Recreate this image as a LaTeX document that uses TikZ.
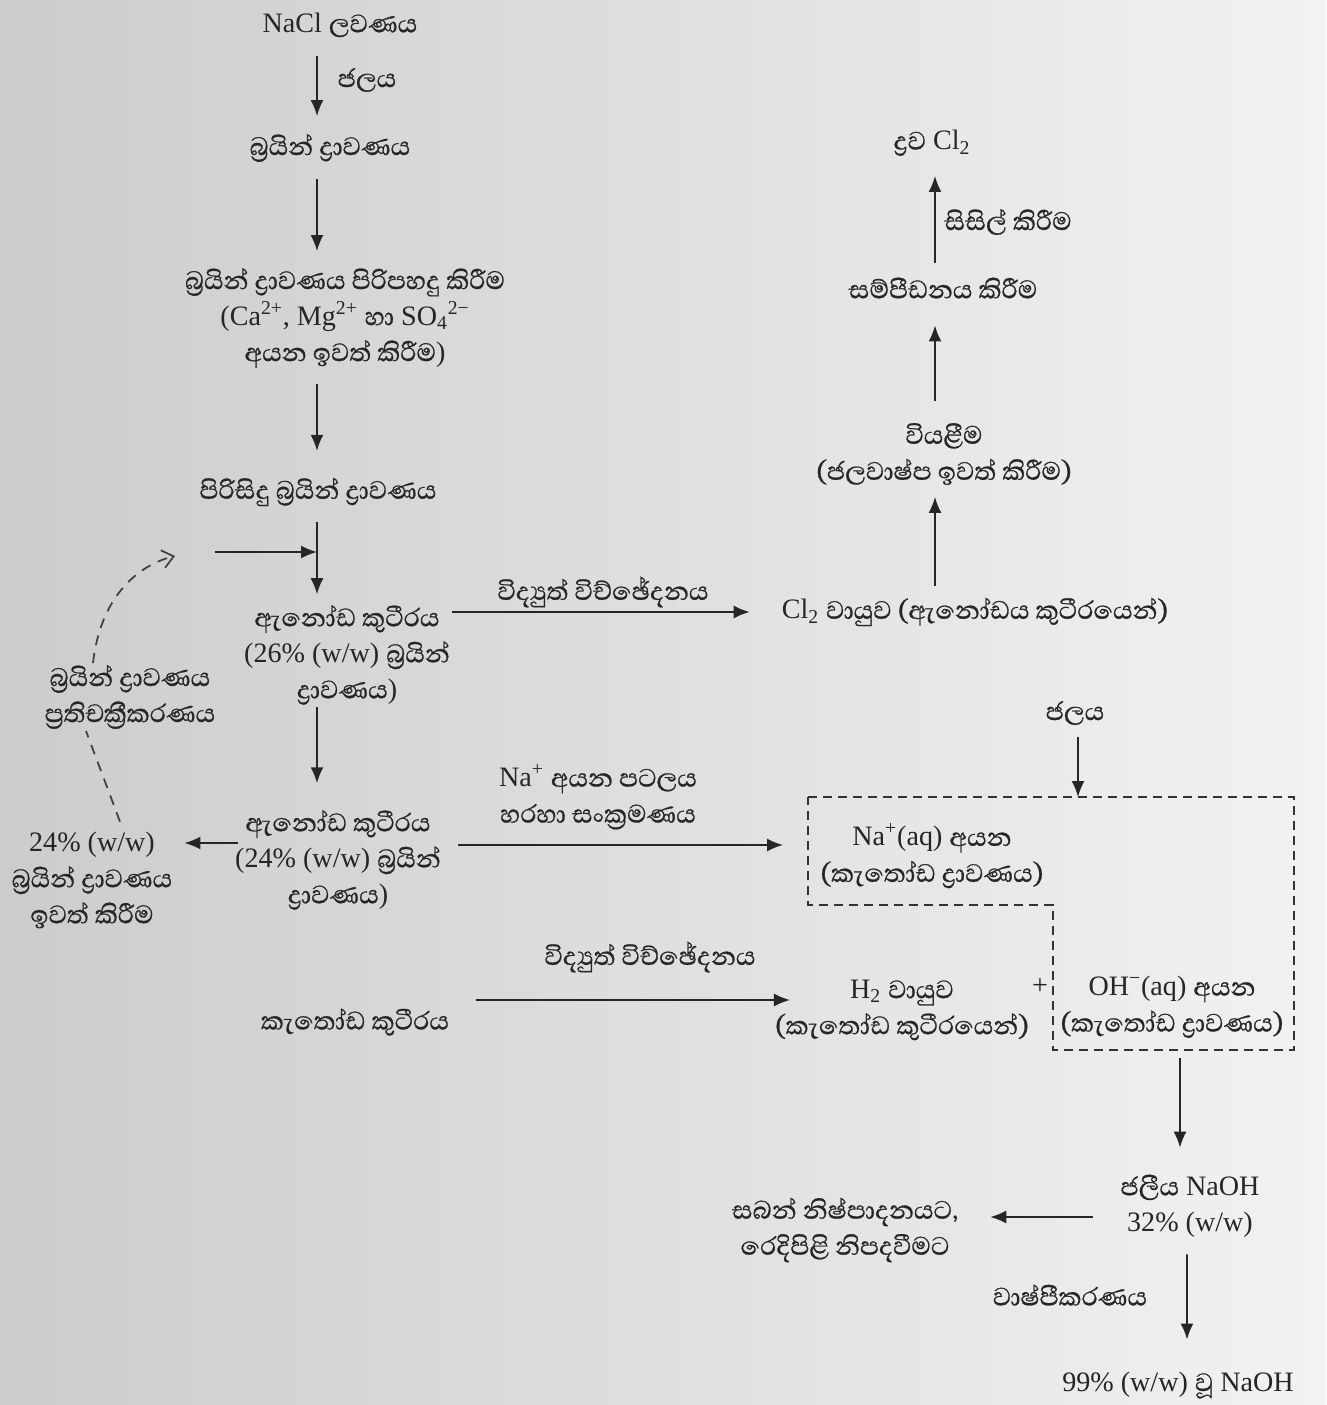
\documentclass[tikz,border=0pt]{standalone}
\usepackage{fontspec}
\setmainfont{Liberation Serif}
\newfontfamily\sinfont[Script=Sinhala, Scale=1.15, FakeBold=0.7]{Abhaya Libre}
\newcommand\snh[1]{{\sinfont #1}}
\usetikzlibrary{arrows.meta}

\begin{document}
\begin{tikzpicture}[x=0.02cm, y=-0.02cm,
    txt/.style={align=center, inner sep=1pt, text=black!85,
                font=\fontsize{16}{20.5}\selectfont},
    arr/.style={-{Latex[length=0.32cm, width=0.26cm]}, line width=1pt, black!85},
    dashln/.style={line width=1pt, black!75, dash pattern=on 0.2cm off 0.16cm},
    recyc/.style={dashln, -{Straight Barb[length=0.22cm, width=0.36cm, line width=1pt]}}]

\shade[left color=black!20, right color=black!5] (0,0) rectangle (1326,1405);
\useasboundingbox (0,0) rectangle (1326,1405);

\coordinate (lc) at (317,0);
\coordinate (rc) at (935,0);

% left column
\draw (340,25) node[txt] (nacl) {NaCl \snh{ලවණය}}
      (367,80) node[txt] (water1) {\snh{ජලය}}
      (330,148) node[txt] (brine) {\snh{බ්^^^^200dරයින් ද්^^^^200dරාවණය}}
      (345,318) node[txt] (purify) {\snh{බ්^^^^200dරයින් ද්^^^^200dරාවණය පිරිපහදු කිරීම}\\
          (Ca\textsuperscript{2+}, Mg\textsuperscript{2+} \snh{හා} SO\textsubscript{4}\textsuperscript{2−}\\
          \snh{අයන ඉවත් කිරීම})}
      (318,492) node[txt] (pure) {\snh{පිරිසිදු බ්^^^^200dරයින් ද්^^^^200dරාවණය}}
      (347,655) node[txt] (anode26) {\snh{ඇනෝඩ කුටීරය}\\
          (26\% (w/w) \snh{බ්^^^^200dරයින්}\\ \snh{ද්^^^^200dරාවණය})}
      (338,860) node[txt] (anode24) {\snh{ඇනෝඩ කුටීරය}\\
          (24\% (w/w) \snh{බ්^^^^200dරයින්}\\ \snh{ද්^^^^200dරාවණය})}
      (92,880) node[txt] (removal) {24\% (w/w)\\ \snh{බ්^^^^200dරයින් ද්^^^^200dරාවණය}\\
          \snh{ඉවත් කිරීම}}
      (130,697) node[txt] (recycle) {\snh{බ්^^^^200dරයින් ද්^^^^200dරාවණය}\\
          \snh{ප්^^^^200dරතිචක්^^^^200dරීකරණය}}
      (355,1022) node[txt] (cathode) {\snh{කැතෝඩ කුටීරය}};

% chlorine side
\draw (975,612) node[txt] (cl2gas) {Cl\textsubscript{2} \snh{වායුව (ඇනෝඩය කුටීරයෙන්)}}
      (944,454) node[txt] (drying) {\snh{වියළීම}\\ \snh{(ජලවාෂ්ප ඉවත් කිරීම)}}
      (943,288) node[txt] (compress) {\snh{සම්පීඩනය කිරීම}}
      (932,143) node[txt] (liqcl) {\snh{ද්^^^^200dරව} Cl\textsubscript{2}}
      (1008,222) node[txt] (cool) {\snh{සිසිල් කිරීම}}
      (603,592) node[txt] (elec1) {\snh{විද්^^^^200dයුත් විච්ඡේදනය}};

% sodium side
\draw (598,797) node[txt] (transfer) {Na\textsuperscript{+} \snh{අයන පටලය}\\
          \snh{හරහා සංක්^^^^200dරමණය}}
      (1075,713) node[txt] (water2) {\snh{ජලය}}
      (932,856) node[txt] (naion) {Na\textsuperscript{+}(aq) \snh{අයන}\\
          \snh{(කැතෝඩ ද්^^^^200dරාවණය)}}
      (902,1010) node[txt] (h2gas) {H\textsubscript{2} \snh{වායුව}\\
          \snh{(කැතෝඩ කුටීරයෙන්)}}
      (1040,987) node[txt] (plus) {+}
      (1172,1007) node[txt] (ohion) {OH\textsuperscript{−}(aq) \snh{අයන}\\
          \snh{(කැතෝඩ ද්^^^^200dරාවණය)}}
      (650,957) node[txt] (elec2) {\snh{විද්^^^^200dයුත් විච්ඡේදනය}}
      (1190,1206) node[txt] (naoh) {\snh{ජලීය} NaOH\\ 32\% (w/w)}
      (845,1230) node[txt] (uses) {\snh{සබන් නිෂ්පාදනයට,}\\ \snh{රෙදිපිළි නිපදවීමට}}
      (1070,1295) node[txt] (evap) {\snh{වාෂ්පීකරණය}}
      (1178,1385) node[txt] (final) {99\% (w/w) \snh{වූ} NaOH};

% dashed cathode box
\coordinate (boxtop) at (1078,797);
\coordinate (boxbot) at (1180,1050);
\coordinate (naend) at (783,845);
\coordinate (recin) at (215,552);
\coordinate (recend) at (175,556);
\draw[black!80, line width=1pt, dash pattern=on 0.18cm off 0.12cm]
      (808,797) -- (1294,797) -- (1294,1050) -- (1053,1050)
      -- (1053,905) -- (808,905) -- cycle;

% arrows
\draw[arr, shorten <=0.34cm, shorten >=0.32cm] (nacl.south -| lc) -- (brine.north -| lc);
\draw[arr, shorten <=0.3cm, shorten >=0.3cm] (brine.south -| lc) -- (purify.north -| lc);
\draw[arr, shorten <=0.28cm, shorten >=0.5cm] (purify.south -| lc) -- (pure.north -| lc);
\draw[arr, shorten <=0.28cm, shorten >=0.18cm] (pure.south -| lc) -- (anode26.north -| lc);
\draw[arr] (recin) -- (recin -| lc);
\draw[arr, shorten >=0.5cm] (anode26.south -| lc) -- (anode24.north -| lc);
\draw[arr, shorten <=-0.1cm, shorten >=0.2cm] (anode24.west |- 0,843) -- (removal.east |- 0,843);
\draw[arr, shorten >=0.6cm] (anode26.east |- cl2gas) -- (cl2gas.west);
\draw[arr, shorten <=0.2cm, shorten >=0.2cm] (cl2gas.north -| rc) -- (drying.south -| rc);
\draw[arr, shorten <=0.4cm, shorten >=0.5cm] (drying.north -| rc) -- (compress.south -| rc);
\draw[arr, shorten <=0.26cm, shorten >=0.36cm] (compress.north -| rc) -- (liqcl.south -| rc);
\draw[arr, shorten <=0.3cm] (anode24.east |- naend) -- (naend);
\draw[arr, shorten <=0.2cm] (water2.south -| boxtop) -- (boxtop);
\draw[arr, shorten <=0.5cm, shorten >=-0.34cm] (cathode.east |- 0,1000) -- (h2gas.west |- 0,1000);
\draw[arr, shorten <=0.16cm, shorten >=0.5cm] (boxbot) -- (naoh.north -| boxbot);
\draw[arr, shorten <=0.5cm, shorten >=0.6cm] (naoh.west |- 0,1217) -- (uses.east |- 0,1217);
\draw[arr, shorten <=0.3cm, shorten >=0.6cm] ([xshift=-0.06cm]naoh.south) -- ([xshift=0.18cm]final.north);
\draw[dashln] ([xshift=0.56cm]removal.north) ++(0,-8) -- ([xshift=-0.88cm]recycle.south);
\draw[recyc] ([xshift=-0.74cm]recycle.north) .. controls (100,600) and (135,566) .. (recend);

\end{tikzpicture}
\end{document}
